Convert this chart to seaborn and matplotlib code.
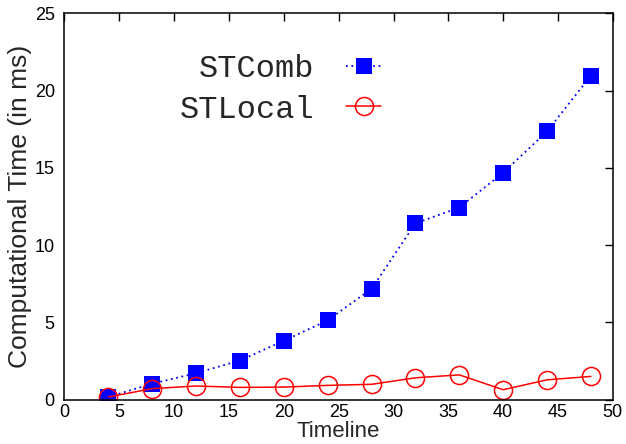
import matplotlib
matplotlib.use('Agg')
import matplotlib.pyplot as plt
import seaborn as sns
import pandas as pd

# values
timeline = [4, 8, 12, 16, 20, 24, 28, 32, 36, 40, 44, 48]
stcomb = [0.17, 1.03, 1.71, 2.53, 3.81, 5.13, 7.17, 11.41, 12.43, 14.68, 17.36, 20.97]
stlocal = [0.17, 0.71, 0.88, 0.79, 0.81, 0.92, 0.99, 1.41, 1.60, 0.64, 1.28, 1.50]

x_ticks = [0, 5, 10, 15, 20, 25, 30, 35, 40, 45, 50]
y_ticks = [0, 5, 10, 15, 20, 25]

sns.set_theme(style="white")
plt.rcParams['font.family'] = ['Liberation Sans', 'DejaVu Sans']

df_comb = pd.DataFrame({"Timeline": timeline, "Time": stcomb})
df_local = pd.DataFrame({"Timeline": timeline, "Time": stlocal})

fig = plt.figure(figsize=(6.26, 4.44), dpi=100)
ax = fig.add_axes([0.103, 0.1, 0.876, 0.87])

sns.lineplot(data=df_comb, x="Timeline", y="Time", ax=ax, color="#0000ff",
             linestyle=(0, (1, 2)), linewidth=1.3, marker="s", markersize=12,
             markeredgewidth=0, label="STComb")
sns.lineplot(data=df_local, x="Timeline", y="Time", ax=ax, color="#ff0000",
             linestyle="-", linewidth=1.1, marker="o", markersize=13,
             markerfacecolor="none", markeredgecolor="#ff0000",
             markeredgewidth=1.1, label="STLocal")

ax.set_xlim(0, 50)
ax.set_ylim(0, 25)
ax.set_xticks(x_ticks)
ax.set_yticks(y_ticks)
ax.tick_params(direction="in", length=6, width=1, top=True, right=True,
               labelsize=13, colors="black")
ax.tick_params(axis="x", pad=3)
ax.tick_params(axis="y", pad=7)
for s in ax.spines.values():
    s.set_color("black")
    s.set_linewidth(1.1)

ax.set_xlabel("Timeline", fontsize=16, labelpad=0)
ax.set_ylabel("Computational Time (in ms)", fontsize=19, labelpad=2)

leg = ax.legend(loc="upper right", bbox_to_anchor=(0.607, 0.935), frameon=False,
                markerfirst=False, borderpad=0, handlelength=1.1,
                handletextpad=1.0, labelspacing=0.32,
                prop={"family": "Liberation Mono", "size": 23})

plt.savefig("out.png", dpi=100)
plt.close()
